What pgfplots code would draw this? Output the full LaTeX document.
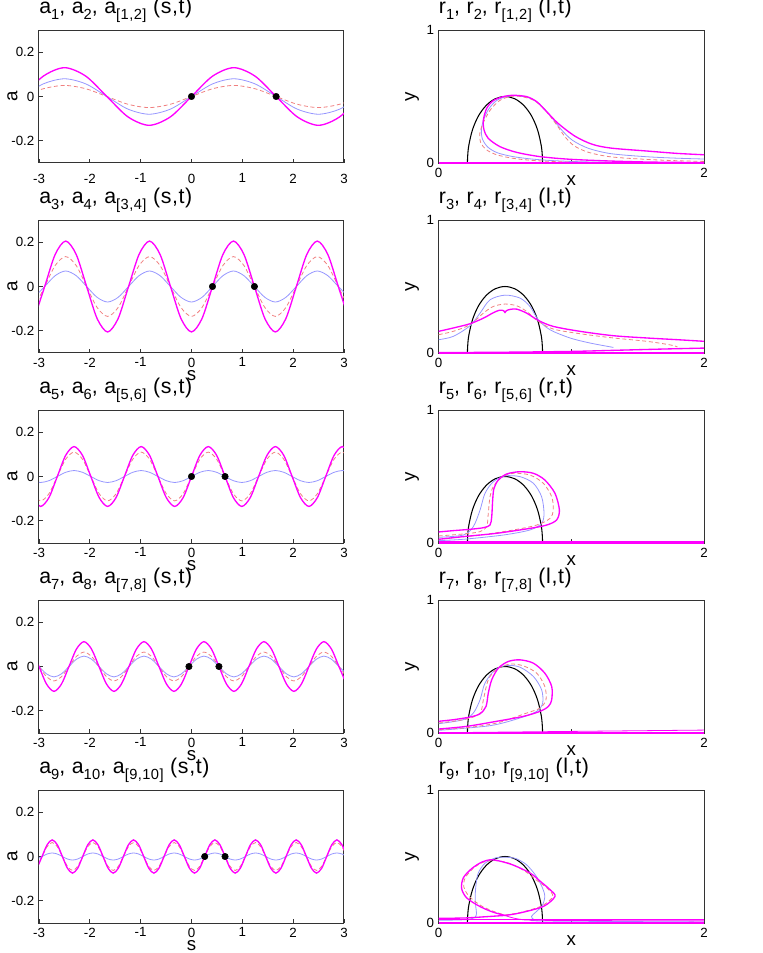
\documentclass[border=0pt]{standalone}
\usepackage{fontspec}
\setmainfont{Liberation Sans}
\newfontfamily\titlefont[LetterSpace=3]{Liberation Sans}
\usepackage{pgfplots}
\usepackage{pgfplotstable}
\pgfplotsset{compat=1.18}

\definecolor{mag}{RGB}{255,0,255}
\definecolor{lblue}{RGB}{150,150,255}
\definecolor{lred}{RGB}{240,128,128}
\newcommand\sub[1]{\raisebox{-4.5pt}{\fontsize{11}{11}\selectfont #1}}

% a(s,t) samples, one table per row: s, a_[i,j] (m), dashed (r), blue (b)
\pgfplotstableread{
s m r b
-3.330 0 0 0
-2.914 0.092 0.035 0.057
-2.498 0.130 0.050 0.080
-2.081 0.092 0.035 0.057
-1.665 0 0 0
-1.249 -0.092 -0.035 -0.057
-0.833 -0.130 -0.050 -0.080
-0.416 -0.092 -0.035 -0.057
0 0 0 0
0.416 0.092 0.035 0.057
0.833 0.130 0.050 0.080
1.249 0.092 0.035 0.057
1.665 0 0 0
2.081 -0.092 -0.035 -0.057
2.498 -0.130 -0.050 -0.080
2.914 -0.092 -0.035 -0.057
3.330 0 0 0
}\tA
\pgfplotstableread{
s m r b
-3.094 -0.145 -0.095 -0.049
-2.888 0 0 0
-2.681 0.145 0.095 0.049
-2.475 0.205 0.135 0.070
-2.269 0.145 0.095 0.049
-2.063 0 0 0
-1.856 -0.145 -0.095 -0.049
-1.650 -0.205 -0.135 -0.070
-1.444 -0.145 -0.095 -0.049
-1.238 0 0 0
-1.031 0.145 0.095 0.049
-0.825 0.205 0.135 0.070
-0.619 0.145 0.095 0.049
-0.413 0 0 0
-0.206 -0.145 -0.095 -0.049
0 -0.205 -0.135 -0.070
0.206 -0.145 -0.095 -0.049
0.413 0 0 0
0.619 0.145 0.095 0.049
0.825 0.205 0.135 0.070
1.031 0.145 0.095 0.049
1.238 0 0 0
1.444 -0.145 -0.095 -0.049
1.650 -0.205 -0.135 -0.070
1.856 -0.145 -0.095 -0.049
2.063 0 0 0
2.269 0.145 0.095 0.049
2.475 0.205 0.135 0.070
2.681 0.145 0.095 0.049
2.888 0 0 0
3.094 -0.145 -0.095 -0.049
}\tB
\pgfplotstableread{
s m r b
-3.135 -0.0955 -0.078 -0.019
-2.970 -0.135 -0.110 -0.027
-2.805 -0.0955 -0.078 -0.019
-2.640 0 0 0
-2.475 0.0955 0.078 0.019
-2.310 0.135 0.110 0.027
-2.145 0.0955 0.078 0.019
-1.980 0 0 0
-1.815 -0.0955 -0.078 -0.019
-1.650 -0.135 -0.110 -0.027
-1.485 -0.0955 -0.078 -0.019
-1.320 0 0 0
-1.155 0.0955 0.078 0.019
-0.990 0.135 0.110 0.027
-0.825 0.0955 0.078 0.019
-0.660 0 0 0
-0.495 -0.0955 -0.078 -0.019
-0.330 -0.135 -0.110 -0.027
-0.165 -0.0955 -0.078 -0.019
0 0 0 0
0.165 0.0955 0.078 0.019
0.330 0.135 0.110 0.027
0.495 0.0955 0.078 0.019
0.660 0 0 0
0.825 -0.0955 -0.078 -0.019
0.990 -0.135 -0.110 -0.027
1.155 -0.0955 -0.078 -0.019
1.320 0 0 0
1.485 0.0955 0.078 0.019
1.650 0.135 0.110 0.027
1.815 0.0955 0.078 0.019
1.980 0 0 0
2.145 -0.0955 -0.078 -0.019
2.310 -0.135 -0.110 -0.027
2.475 -0.0955 -0.078 -0.019
2.640 0 0 0
2.805 0.0955 0.078 0.019
2.970 0.135 0.110 0.027
3.135 0.0955 0.078 0.019
}\tC
\pgfplotstableread{
s m r b
-3.1475 0.079 0.046 0.033
-3.000 0 0 0
-2.8525 -0.079 -0.046 -0.033
-2.705 -0.112 -0.065 -0.047
-2.5575 -0.079 -0.046 -0.033
-2.410 0 0 0
-2.2625 0.079 0.046 0.033
-2.115 0.112 0.065 0.047
-1.9675 0.079 0.046 0.033
-1.820 0 0 0
-1.6725 -0.079 -0.046 -0.033
-1.525 -0.112 -0.065 -0.047
-1.3775 -0.079 -0.046 -0.033
-1.230 0 0 0
-1.0825 0.079 0.046 0.033
-0.935 0.112 0.065 0.047
-0.7875 0.079 0.046 0.033
-0.640 0 0 0
-0.4925 -0.079 -0.046 -0.033
-0.345 -0.112 -0.065 -0.047
-0.1975 -0.079 -0.046 -0.033
-0.050 0 0 0
0.0975 0.079 0.046 0.033
0.245 0.112 0.065 0.047
0.3925 0.079 0.046 0.033
0.540 0 0 0
0.6875 -0.079 -0.046 -0.033
0.835 -0.112 -0.065 -0.047
0.9825 -0.079 -0.046 -0.033
1.130 0 0 0
1.2775 0.079 0.046 0.033
1.425 0.112 0.065 0.047
1.5725 0.079 0.046 0.033
1.720 0 0 0
1.8675 -0.079 -0.046 -0.033
2.015 -0.112 -0.065 -0.047
2.1625 -0.079 -0.046 -0.033
2.310 0 0 0
2.4575 0.079 0.046 0.033
2.605 0.112 0.065 0.047
2.7525 0.079 0.046 0.033
2.900 0 0 0
3.0475 -0.079 -0.046 -0.033
}\tD
\pgfplotstableread{
s m r b
-3.04 -0.053 -0.0445 -0.0113
-2.94 0 0 0
-2.84 0.053 0.0445 0.0113
-2.74 0.075 0.063 0.016
-2.64 0.053 0.0445 0.0113
-2.54 0 0 0
-2.44 -0.053 -0.0445 -0.0113
-2.34 -0.075 -0.063 -0.016
-2.24 -0.053 -0.0445 -0.0113
-2.14 0 0 0
-2.04 0.053 0.0445 0.0113
-1.94 0.075 0.063 0.016
-1.84 0.053 0.0445 0.0113
-1.74 0 0 0
-1.64 -0.053 -0.0445 -0.0113
-1.54 -0.075 -0.063 -0.016
-1.44 -0.053 -0.0445 -0.0113
-1.34 0 0 0
-1.24 0.053 0.0445 0.0113
-1.14 0.075 0.063 0.016
-1.04 0.053 0.0445 0.0113
-0.94 0 0 0
-0.84 -0.053 -0.0445 -0.0113
-0.74 -0.075 -0.063 -0.016
-0.64 -0.053 -0.0445 -0.0113
-0.54 0 0 0
-0.44 0.053 0.0445 0.0113
-0.34 0.075 0.063 0.016
-0.24 0.053 0.0445 0.0113
-0.14 0 0 0
-0.04 -0.053 -0.0445 -0.0113
0.06 -0.075 -0.063 -0.016
0.16 -0.053 -0.0445 -0.0113
0.26 0 0 0
0.36 0.053 0.0445 0.0113
0.46 0.075 0.063 0.016
0.56 0.053 0.0445 0.0113
0.66 0 0 0
0.76 -0.053 -0.0445 -0.0113
0.86 -0.075 -0.063 -0.016
0.96 -0.053 -0.0445 -0.0113
1.06 0 0 0
1.16 0.053 0.0445 0.0113
1.26 0.075 0.063 0.016
1.36 0.053 0.0445 0.0113
1.46 0 0 0
1.56 -0.053 -0.0445 -0.0113
1.66 -0.075 -0.063 -0.016
1.76 -0.053 -0.0445 -0.0113
1.86 0 0 0
1.96 0.053 0.0445 0.0113
2.06 0.075 0.063 0.016
2.16 0.053 0.0445 0.0113
2.26 0 0 0
2.36 -0.053 -0.0445 -0.0113
2.46 -0.075 -0.063 -0.016
2.56 -0.053 -0.0445 -0.0113
2.66 0 0 0
2.76 0.053 0.0445 0.0113
2.86 0.075 0.063 0.016
2.96 0.053 0.0445 0.0113
3.06 0 0 0
}\tE
% the fixed arch drawn in every r panel
\pgfplotstableread{
x y
0.217 0
0.2181 0.044
0.2266 0.129
0.2549 0.25
0.2999 0.354
0.3585 0.433
0.4267 0.483
0.5 0.5
0.5733 0.483
0.6415 0.433
0.7001 0.354
0.7451 0.25
0.7734 0.129
0.7819 0.044
0.783 0
}\arch

\pgfplotsset{
  base/.style={scale only axis, height=99.75pt,
    axis line style={black!80, line width=0.75pt},
    tick style={black!80, line width=0.6pt}, major tick length=3pt,
    tick align=inside, tick pos=left,
    ticklabel style={font=\fontsize{10}{10}\selectfont},
    /pgf/number format/assume math mode=true,
    title style={at={(0,1)}, anchor=base west, yshift=6.5pt, inner sep=0pt,
      font=\titlefont\fontsize{16}{16}\selectfont},
    label style={font=\fontsize{14}{14}\selectfont, inner sep=0pt}},
  aplot/.style={base, width=228.75pt, xmin=-3, xmax=3, ymin=-0.3, ymax=0.3,
    xtick={-3,-2,-1,0,1,2,3}, ytick={-0.2,0,0.2}, ylabel={a},
    ylabel style={at={(axis description cs:-0.0874,0.5)}, anchor=center},
    xlabel style={at={(axis description cs:0.5,0)}, anchor=center, yshift=-17pt}},
  rplot/.style={base, width=199pt, xmin=0, xmax=2, ymin=0, ymax=1,
    xtick={0,1,2}, xticklabels={0,,2}, ytick={0,1}, ylabel={y}, xlabel={x},
    ylabel style={at={(axis description cs:-0.1005,0.5)}, anchor=center},
    xlabel style={at={(axis description cs:0.5,0)}, anchor=center, yshift=-13pt}},
  cm/.style={mag, line width=1pt, smooth, tension=0.5},
  cb/.style={lblue, line width=0.6pt, smooth, tension=0.5},
  cr/.style={lred, line width=0.6pt, dash pattern=on 3pt off 2pt, smooth, tension=0.5},
  ck/.style={black, line width=0.8pt, smooth, tension=0.55},
  dots/.style={only marks, mark=*, mark size=2.4pt, black},
  floor/.style={mag, line width=1.4pt},
}

\begin{document}
\begin{tikzpicture}
\useasboundingbox (0,0) rectangle (572.25pt,-714.75pt);

% ---- left column: a(s,t)
\begin{axis}[aplot, at={(29.25pt,-22.5pt)}, anchor=north west,
  xticklabel style={yshift=-4.5pt},
  title={a\sub{1}, a\sub{2}, a\sub{[1,2]} (s,t)}]
\addplot[cb] table[x=s,y=b] {\tA};
\addplot[cr] table[x=s,y=r] {\tA};
\addplot[cm] table[x=s,y=m] {\tA};
\addplot[dots] coordinates {(0,0) (1.665,0)};
\end{axis}

\begin{axis}[aplot, at={(29.25pt,-165pt)}, anchor=north west, xlabel={s},
  title={a\sub{3}, a\sub{4}, a\sub{[3,4]} (s,t)}]
\addplot[cb] table[x=s,y=b] {\tB};
\addplot[cr] table[x=s,y=r] {\tB};
\addplot[cm] table[x=s,y=m] {\tB};
\addplot[dots] coordinates {(0.413,0) (1.238,0)};
\end{axis}

\begin{axis}[aplot, at={(29.25pt,-307.5pt)}, anchor=north west, xlabel={s},
  title={a\sub{5}, a\sub{6}, a\sub{[5,6]} (s,t)}]
\addplot[cb] table[x=s,y=b] {\tC};
\addplot[cr] table[x=s,y=r] {\tC};
\addplot[cm] table[x=s,y=m] {\tC};
\addplot[dots] coordinates {(0,0) (0.66,0)};
\end{axis}

\begin{axis}[aplot, at={(29.25pt,-450pt)}, anchor=north west, xlabel={s},
  title={a\sub{7}, a\sub{8}, a\sub{[7,8]} (s,t)}]
\addplot[cb] table[x=s,y=b] {\tD};
\addplot[cr] table[x=s,y=r] {\tD};
\addplot[cm] table[x=s,y=m] {\tD};
\addplot[dots] coordinates {(-0.05,0) (0.54,0)};
\end{axis}

\begin{axis}[aplot, at={(29.25pt,-592.5pt)}, anchor=north west, xlabel={s},
  title={a\sub{9}, a\sub{10}, a\sub{[9,10]} (s,t)}]
\addplot[cb] table[x=s,y=b] {\tE};
\addplot[cr] table[x=s,y=r] {\tE};
\addplot[cm] table[x=s,y=m] {\tE};
\addplot[dots] coordinates {(0.26,0) (0.66,0)};
\end{axis}

% ---- right column: r(l,t) in the (x,y) plane
\begin{axis}[rplot, at={(329pt,-22.5pt)}, anchor=north west,
  title={r\sub{1}, r\sub{2}, r\sub{[1,2]} (l,t)}]
\addplot[ck] table {\arch};
\addplot[cb] coordinates {(2,0.03) (1.8,0.036) (1.57,0.047) (1.3,0.07) (1.13,0.11) (1.01,0.17) (0.93,0.245) (0.85,0.345) (0.77,0.435) (0.69,0.487) (0.59,0.505) (0.513,0.5) (0.437,0.47) (0.38,0.41) (0.34,0.33) (0.322,0.25) (0.33,0.18) (0.37,0.12) (0.44,0.078) (0.55,0.05) (0.7,0.03) (0.9,0.016) (1.2,0.007) (2,0.002)};
\addplot[cr] coordinates {(2,0.012) (1.8,0.017) (1.57,0.027) (1.3,0.046) (1.13,0.08) (1.02,0.13) (0.95,0.2) (0.88,0.3) (0.8,0.4) (0.72,0.47) (0.62,0.5) (0.54,0.5) (0.46,0.47) (0.39,0.4) (0.335,0.3) (0.31,0.22) (0.318,0.15) (0.36,0.1) (0.43,0.064) (0.55,0.037) (0.7,0.02) (0.9,0.01) (1.2,0.004) (2,0.001)};
\addplot[cm] coordinates {(2,0.062) (1.8,0.072) (1.57,0.09) (1.3,0.112) (1.16,0.14) (1.03,0.2) (0.9,0.298) (0.814,0.386) (0.739,0.461) (0.663,0.499) (0.563,0.509) (0.487,0.499) (0.412,0.469) (0.362,0.411) (0.337,0.323) (0.342,0.248) (0.374,0.185) (0.462,0.123) (0.588,0.08) (0.764,0.048) (0.99,0.028) (1.29,0.015) (1.6,0.007) (2,0.003)};
\addplot[floor] coordinates {(0,0.003) (2,0.003)};
\end{axis}

\begin{axis}[rplot, at={(329pt,-165pt)}, anchor=north west,
  title={r\sub{3}, r\sub{4}, r\sub{[3,4]} (l,t)}]
\addplot[ck] table {\arch};
\addplot[cb] coordinates {(0,0.1) (0.11,0.125) (0.236,0.205) (0.312,0.3) (0.387,0.4) (0.5,0.435) (0.613,0.413) (0.688,0.35) (0.751,0.25) (0.839,0.175) (0.99,0.113) (1.141,0.075) (1.317,0.042)};
\addplot[cr] coordinates {(0,0.138) (0.11,0.163) (0.236,0.213) (0.337,0.3) (0.412,0.35) (0.5,0.368) (0.588,0.355) (0.663,0.313) (0.751,0.238) (0.864,0.18) (1.065,0.145) (1.317,0.113) (1.568,0.088) (1.75,0.06) (1.8,0.045)};
\addplot[cm] coordinates {(0,0.163) (0.11,0.188) (0.236,0.22) (0.337,0.262) (0.412,0.303) (0.46,0.322) (0.49,0.318) (0.5,0.305) (0.51,0.318) (0.54,0.328) (0.588,0.33) (0.663,0.3) (0.751,0.245) (0.864,0.2) (1.065,0.163) (1.317,0.13) (1.568,0.113) (1.8,0.1) (2,0.088)};
\addplot[cm] coordinates {(0,0.003) (0.5,0.006) (1,0.012) (1.317,0.02) (1.7,0.03) (2,0.037)};
\addplot[floor] coordinates {(0,0.003) (2,0.003)};
\end{axis}

\begin{axis}[rplot, at={(329pt,-307.5pt)}, anchor=north west,
  title={r\sub{5}, r\sub{6}, r\sub{[5,6]} (r,t)}]
\addplot[ck] table {\arch};
\addplot[cb] coordinates {(0,0.043) (0.186,0.06) (0.261,0.123) (0.312,0.248) (0.349,0.373) (0.412,0.461) (0.5,0.504) (0.613,0.499) (0.714,0.449) (0.776,0.348) (0.794,0.223) (0.776,0.148) (0.688,0.098) (0.487,0.06) (0.186,0.028) (0,0.018)};
\addplot[cr] coordinates {(0,0.053) (0.186,0.068) (0.31,0.085) (0.362,0.123) (0.374,0.223) (0.387,0.348) (0.412,0.424) (0.475,0.494) (0.563,0.524) (0.688,0.511) (0.789,0.449) (0.852,0.348) (0.864,0.248) (0.839,0.185) (0.739,0.135) (0.563,0.098) (0.312,0.06) (0,0.03)};
\addplot[cm] coordinates {(0,0.083) (0.11,0.093) (0.236,0.103) (0.337,0.115) (0.387,0.135) (0.4,0.198) (0.407,0.323) (0.417,0.411) (0.45,0.474) (0.513,0.519) (0.613,0.536) (0.714,0.524) (0.8,0.474) (0.877,0.373) (0.91,0.248) (0.889,0.173) (0.814,0.135) (0.688,0.11) (0.437,0.073) (0.186,0.048) (0,0.028)};
\addplot[cm, line width=0.8pt] coordinates {(0,0.012) (2,0.012)};
\addplot[floor] coordinates {(0,0.003) (2,0.003)};
\end{axis}

\begin{axis}[rplot, at={(329pt,-450pt)}, anchor=north west,
  title={r\sub{7}, r\sub{8}, r\sub{[7,8]} (l,t)}]
\addplot[ck] table {\arch};
\addplot[cb] coordinates {(0,0.07) (0.186,0.1) (0.261,0.15) (0.312,0.25) (0.349,0.375) (0.425,0.475) (0.513,0.508) (0.613,0.495) (0.714,0.425) (0.776,0.325) (0.784,0.225) (0.739,0.163) (0.613,0.113) (0.387,0.055) (0,0.02)};
\addplot[cr] coordinates {(0,0.075) (0.211,0.105) (0.312,0.15) (0.337,0.25) (0.374,0.4) (0.437,0.48) (0.538,0.518) (0.638,0.505) (0.739,0.45) (0.8,0.35) (0.809,0.25) (0.764,0.188) (0.663,0.15) (0.437,0.075) (0.211,0.04) (0,0.025)};
\addplot[cm] coordinates {(0,0.088) (0.11,0.1) (0.236,0.12) (0.312,0.145) (0.357,0.2) (0.374,0.3) (0.4,0.4) (0.45,0.488) (0.525,0.538) (0.613,0.55) (0.714,0.525) (0.8,0.45) (0.852,0.35) (0.852,0.25) (0.827,0.2) (0.764,0.163) (0.638,0.125) (0.437,0.088) (0.211,0.05) (0,0.03)};
\addplot[cm, line width=0.6pt] coordinates {(0.2,0.004) (1,0.012) (2,0.022)};
\addplot[floor] coordinates {(0,0.003) (2,0.003)};
\end{axis}

\begin{axis}[rplot, at={(329pt,-592.5pt)}, anchor=north west,
  title={r\sub{9}, r\sub{10}, r\sub{[9,10]} (l,t)}]
\addplot[ck] table {\arch};
\addplot[cb] coordinates {(0,0.02) (0.2,0.025) (0.27,0.04) (0.285,0.07) (0.28,0.12) (0.275,0.2) (0.283,0.3) (0.3,0.38) (0.35,0.45) (0.43,0.49) (0.5,0.495) (0.58,0.485) (0.66,0.44) (0.73,0.36) (0.78,0.27) (0.8,0.2) (0.78,0.13) (0.73,0.08) (0.7,0.05) (0.72,0.025) (0.8,0.015) (2,0.008)};
\addplot[cr] coordinates {(0.5,0.06) (0.62,0.08) (0.78,0.13) (0.86,0.2) (0.82,0.26) (0.74,0.32) (0.65,0.39) (0.53,0.45) (0.42,0.47) (0.33,0.455) (0.26,0.41) (0.2,0.34) (0.19,0.27) (0.23,0.2) (0.32,0.13) (0.42,0.085) (0.5,0.06)};
\addplot[cm] coordinates {(0,0.035) (0.2,0.038) (0.35,0.047) (0.5,0.057)};
\addplot[cm] coordinates {(0.5,0.057) (0.61,0.075) (0.79,0.125) (0.877,0.2) (0.84,0.25) (0.77,0.31) (0.69,0.375) (0.55,0.44) (0.41,0.475) (0.33,0.46) (0.25,0.41) (0.186,0.34) (0.173,0.26) (0.21,0.19) (0.3,0.13) (0.4,0.085) (0.5,0.057)};
\addplot[cm, line width=0.6pt] coordinates {(0.5,0.057) (0.6,0.03) (0.8,0.02) (2,0.016)};
\addplot[cm, line width=0.8pt] coordinates {(0,0.024) (2,0.024)};
\addplot[floor] coordinates {(0,0.003) (2,0.003)};
\end{axis}
\end{tikzpicture}
\end{document}
